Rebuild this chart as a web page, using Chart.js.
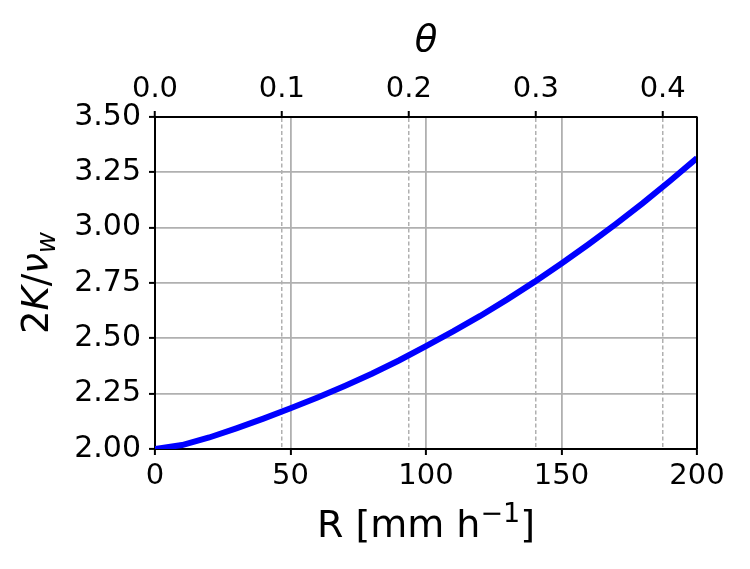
<!DOCTYPE html>
<html>
<head>
<meta charset="utf-8">
<script src="https://cdn.jsdelivr.net/npm/chart.js@4.4.0/dist/chart.umd.min.js"></script>
<style>
  html, body { margin: 0; padding: 0; background: #fff; }
  #wrap { width: 750px; height: 569px; }
</style>
</head>
<body>
<div id="wrap"><canvas id="kChart" width="750" height="569"></canvas></div>
<script>
// rain rate R [mm/h] and the ratio 2K/nu_w
const rainRate = [0, 10, 20, 30, 40, 50, 60, 70, 80, 90, 100, 110, 120, 130, 140, 150, 160, 170, 180, 190, 200];
const kRatio = [2.000, 2.018, 2.052, 2.093, 2.137, 2.184, 2.233, 2.285, 2.340, 2.400, 2.465,
                2.531, 2.601, 2.676, 2.755, 2.838, 2.925, 3.016, 3.111, 3.211, 3.315];

// axis ranges
const rRange = [0, 200];
const thetaRange = [0, 0.427];
const kRange = [2.0, 3.5];

const FONT = "'DejaVu Sans', sans-serif";
const gridGray = '#b0b0b0';

// draws a run of text pieces with different fonts, centred on x
function drawPieces(ctx, pieces, x, y) {
  let total = 0;
  pieces.forEach(p => {
    ctx.font = p.font;
    p.w = ctx.measureText(p.text).width;
    total += p.w;
  });
  let cx = x - total / 2;
  pieces.forEach(p => {
    ctx.font = p.font;
    ctx.fillText(p.text, cx, y + (p.dy || 0));
    cx += p.w;
  });
}

const titlesPlugin = {
  id: 'titles',
  afterDraw(chart) {
    const ctx = chart.ctx;
    const area = chart.chartArea;
    const midX = (area.left + area.right) / 2;
    const midY = (area.top + area.bottom) / 2;

    ctx.save();
    // right spine
    ctx.strokeStyle = '#000';
    ctx.lineWidth = 2;
    ctx.beginPath();
    ctx.moveTo(area.right, area.top);
    ctx.lineTo(area.right, area.bottom);
    ctx.stroke();

    ctx.fillStyle = '#000';
    ctx.textAlign = 'left';
    ctx.textBaseline = 'alphabetic';

    // bottom title
    drawPieces(ctx, [
      { text: 'R [mm h', font: '38px ' + FONT },
      { text: '\u22121', font: '27px ' + FONT, dy: -15 },
      { text: ']', font: '38px ' + FONT }
    ], midX, 537);

    // top title
    drawPieces(ctx, [
      { text: '\u03b8', font: 'italic 37px ' + FONT }
    ], midX, 51);

    // y title, rotated
    ctx.translate(48, midY);
    ctx.rotate(-Math.PI / 2);
    drawPieces(ctx, [
      { text: '2', font: '37px ' + FONT },
      { text: 'K', font: 'italic 37px ' + FONT },
      { text: '/', font: '37px ' + FONT },
      { text: '\u03bd', font: 'italic 37px ' + FONT },
      { text: 'w', font: 'italic 26px ' + FONT, dy: 7 }
    ], 0, 0);
    ctx.restore();
  }
};

const ctx = document.getElementById('kChart').getContext('2d');
const kChart = new Chart(ctx, {
  type: 'line',
  data: {
    datasets: [{
      data: rainRate.map((r, i) => ({ x: r, y: kRatio[i] })),
      borderColor: '#0000ff',
      borderWidth: 6,
      pointRadius: 0,
      tension: 0,
      fill: false,
      xAxisID: 'x',
      yAxisID: 'y'
    }]
  },
  options: {
    responsive: false,
    animation: false,
    layout: { padding: { left: 0, right: 53, top: 0, bottom: 0 } },
    plugins: {
      legend: { display: false },
      tooltip: { enabled: false }
    },
    scales: {
      x: {
        type: 'linear',
        position: 'bottom',
        min: rRange[0],
        max: rRange[1],
        ticks: {
          stepSize: 50,
          color: '#000',
          font: { family: FONT, size: 29 },
          padding: 4,
          maxRotation: 0
        },
        grid: {
          color: gridGray,
          lineWidth: 1.8,
          tickColor: '#000',
          tickWidth: 2,
          tickLength: 6
        },
        border: { color: '#000', width: 2 },
        afterFit(scale) { scale.height = 120; }
      },
      xTop: {
        type: 'linear',
        position: 'top',
        min: thetaRange[0],
        max: thetaRange[1],
        ticks: {
          stepSize: 0.1,
          includeBounds: false,
          color: '#000',
          font: { family: FONT, size: 29 },
          padding: 4,
          maxRotation: 0,
          callback: v => v.toFixed(1)
        },
        grid: {
          color: gridGray,
          lineWidth: 1.5,
          tickColor: '#000',
          tickWidth: 2,
          tickLength: 6,
          tickBorderDash: []
        },
        border: { color: '#000', width: 2, dash: [4, 2.5] },
        afterFit(scale) { scale.height = 117; }
      },
      y: {
        type: 'linear',
        min: kRange[0],
        max: kRange[1],
        ticks: {
          stepSize: 0.25,
          color: '#000',
          font: { family: FONT, size: 30 },
          padding: 8,
          callback: v => v.toFixed(2)
        },
        grid: {
          color: gridGray,
          lineWidth: 1.8,
          tickColor: '#000',
          tickWidth: 2,
          tickLength: 6
        },
        border: { color: '#000', width: 2 },
        afterFit(scale) { scale.width = 155; }
      }
    }
  },
  plugins: [titlesPlugin]
});
</script>
</body>
</html>
